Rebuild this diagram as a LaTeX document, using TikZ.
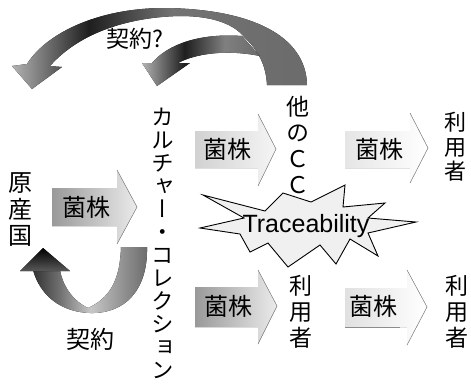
\documentclass[tikz,border=0pt]{standalone}
\usepackage{fontspec}
\setmainfont{Noto Sans CJK JP}
\newfontfamily\jpf{Noto Sans CJK JP}
\newfontfamily\jpvf[RawFeature=+vert]{Noto Sans CJK JP}
\newfontfamily\latf{Liberation Sans}
\pgfdeclarehorizontalshading{bigarcshade}{100bp}{color(0bp)=(black!30); color(25bp)=(black!30); color(38bp)=(black!88); color(52bp)=(black!55); color(75bp)=(black!58); color(100bp)=(black!58)}
\pgfdeclarehorizontalshading{smallarcshade}{100bp}{color(0bp)=(black!30); color(25bp)=(black!30); color(43bp)=(black!88); color(60bp)=(black!50); color(75bp)=(black!58); color(100bp)=(black!58)}
\pgfdeclarehorizontalshading{uturnshade}{100bp}{color(0bp)=(black!80); color(25bp)=(black!80); color(37bp)=(black!55); color(50bp)=(black!22); color(62bp)=(black!40); color(75bp)=(black!58); color(100bp)=(black!58)}
\tikzset{
  jtext/.style={inner sep=0pt, font=\jpf\fontsize{24}{24}\selectfont},
  vtext/.style={inner sep=0pt, align=center, font=\jpvf\fontsize{#1}{#1}\selectfont},
  headline/.style={draw=black!45, line width=0.5pt},
}
\begin{document}
\begin{tikzpicture}[x=1pt,y=-1pt]
\useasboundingbox (0,0) rectangle (471,384);

% ---- top arcs ----
\fill[shading=bigarcshade] (307,85) .. controls (306,35) and (250,9) .. (165,8)
  .. controls (95,8) and (45,35) .. (27,64) -- (12,66) -- (32,89) -- (62,67) -- (50,66)
  .. controls (80,32) and (130,17) .. (180,16) .. controls (215,16) and (235,25) .. (245,38)
  .. controls (258,50) and (266,65) .. (267,85) -- cycle;
\fill[shading=smallarcshade] (242,36) .. controls (200,33) and (168,44) .. (152,63)
  -- (142,63) -- (157,86) -- (190,63) -- (178,63)
  .. controls (195,54) and (225,49) .. (260,56) -- cycle;
\node[jtext, font=\jpf\fontsize{23}{23}\selectfont] (q) at (135,39) {契約?};

% ---- u-turn arrow ----
\fill[shading=uturnshade] (60,270) .. controls (63,288) and (75,302) .. (88,308)
  .. controls (110,298) and (120,280) .. (121,247) -- (147,247)
  .. controls (148,290) and (125,314) .. (90,313)
  .. controls (60,312) and (40,295) .. (33,270) -- cycle;
\fill[top color=black, bottom color=black!65] (20,271) -- (43,248) -- (70,271) -- cycle;
\node[jtext] (k0) at (90,339) {契約};

% ---- block arrows ----
\fill[left color=black!40, right color=black!8] (52,188) -- (117,188) -- (117,170) -- (137,207) -- (117,244) -- (117,226) -- (52,226) -- cycle;
\draw[headline] (117,170) -- (137,207) -- (117,244);
\fill[left color=black!18, right color=black!4] (195,131) -- (258,131) -- (258,114) -- (276,149) -- (258,186) -- (258,168) -- (195,168) -- cycle;
\draw[headline] (258,114) -- (276,149) -- (258,186);
\fill[left color=black!10, right color=white] (345,131) -- (410,131) -- (410,113) -- (428,148) -- (410,183) -- (410,168) -- (345,168) -- cycle;
\draw[headline] (410,113) -- (428,148) -- (410,183);
\fill[left color=black!40, right color=black!8] (195,287) -- (258,287) -- (258,270) -- (277,306) -- (258,344) -- (258,327) -- (195,327) -- cycle;
\draw[headline] (258,270) -- (277,306) -- (258,344);
\fill[left color=black!12, right color=white] (345,288) -- (407,288) -- (407,270) -- (427,307) -- (407,345) -- (407,327) -- (345,327) -- cycle;
\draw[headline] (407,270) -- (427,307) -- (407,345);
\draw[black!45, line width=0.5pt] (345,327) -- (400,327);

\node[jtext] (k1) at (86,207) {菌株};
\node[jtext] (k2) at (227,149) {菌株};
\node[jtext] (k3) at (379,149) {菌株};
\node[jtext] (k4) at (228,306) {菌株};
\node[jtext] (k5) at (373,306) {菌株};

% ---- star ----
\draw[fill=black!6, line width=0.9pt, line join=miter]
  (203,195) -- (265,211) -- (283,193) -- (311,202) -- (345,185) -- (343,207)
  -- (385,203) -- (368,218) -- (416,222) -- (368,233) -- (378,256) -- (350,239)
  -- (336,264) -- (320,245) -- (288,267) -- (268,243) -- (250,252) -- (240,234)
  -- (200,228) -- (244,218) -- cycle;
\node[inner sep=0pt, font=\latf\fontsize{25}{25}\selectfont] (tr) at (306,226) {Traceability};

% ---- vertical texts ----
\node[vtext=24, font=\jpvf\fontsize{24}{26.5}\selectfont] (origin) at (21,210) {原\\産\\国};
\node[vtext=23, font=\jpvf\fontsize{22.5}{23}\selectfont] (cc) at (163,243) {カ\\ル\\チ\\ャ\\ー\\・\\コ\\レ\\ク\\シ\\ョ\\ン};
\node[vtext=23, font=\jpvf\fontsize{23}{25.7}\selectfont] (occ) at (298,145) {他\\の\\Ｃ\\Ｃ};
\node[vtext=22, font=\jpvf\fontsize{22}{24.5}\selectfont] (u1) at (455,147) {利\\用\\者};
\node[vtext=23, font=\jpvf\fontsize{23}{26}\selectfont] (u2) at (301,312) {利\\用\\者};
\node[vtext=23, font=\jpvf\fontsize{23}{26}\selectfont] (u3) at (457,312) {利\\用\\者};
\end{tikzpicture}
\end{document}
